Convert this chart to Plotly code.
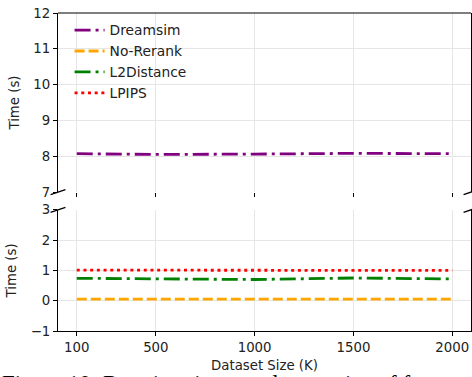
import plotly.graph_objects as go

dataset_size = [100, 500, 1000, 1500, 2000]
dreamsim = [8.07, 8.05, 8.06, 8.08, 8.07]
no_rerank = [0.05, 0.05, 0.05, 0.05, 0.05]
l2distance = [0.74, 0.72, 0.70, 0.75, 0.72]
lpips = [1.01, 1.01, 0.99, 1.00, 1.00]

x_ticks = [100, 500, 1000, 1500, 2000]
top_y_ticks = [7, 8, 9, 10, 11, 12]
bottom_y_ticks = [-1, 0, 1, 2, 3]

FONT = "DejaVu Sans"
LW = 2.8

fig = go.Figure()

series = [
    ("Dreamsim", dreamsim, "purple", "16px,5px,3px,5px", "y2"),
    ("No-Rerank", no_rerank, "orange", "10px,4px", "y"),
    ("L2Distance", l2distance, "green", "16px,5px,3px,5px", "y"),
    ("LPIPS", lpips, "red", "3px,3.7px", "y"),
]
for name, vals, color, dash, yax in series:
    fig.add_trace(go.Scatter(
        x=dataset_size, y=vals, name=name, mode="lines",
        line=dict(color=color, width=LW, dash=dash),
        xaxis="x" if yax == "y" else "x2", yaxis=yax,
    ))

grid = "#e6e6e6"
common_x = dict(range=[5, 2095], tickvals=x_ticks, showgrid=True, gridcolor=grid,
                gridwidth=1, ticks="outside", ticklen=4, tickcolor="black",
                zeroline=False, automargin=False,
                tickfont=dict(family=FONT, size=13.3, color="#222"))
common_y = dict(showgrid=True, gridcolor=grid, gridwidth=1, ticks="outside",
                ticklen=4, tickcolor="black", zeroline=False, showline=True,
                linecolor="black", linewidth=1.2, mirror=True, automargin=False,
                tickfont=dict(family=FONT, size=13.3, color="#222"),
                title=dict(text="Time (s)", font=dict(family=FONT, size=13.3, color="#222"), standoff=10))

bot_dom = [0, 0.381]
top_dom = [0.437, 1]

fig.update_layout(
    width=472, height=377,
    margin=dict(l=58, r=1, t=13, b=46, autoexpand=False),
    paper_bgcolor="white", plot_bgcolor="white",
    showlegend=True,
    legend=dict(x=0.028, y=0.995, xanchor="left", yanchor="top",
                bgcolor="rgba(0,0,0,0)", font=dict(family=FONT, size=13.8, color="#222"),
                tracegroupgap=0, itemwidth=30),
    xaxis=dict(common_x, domain=[0, 1], anchor="y", showline=True, linecolor="black",
               linewidth=1.2,
               title=dict(text="Dataset Size (K)", font=dict(family=FONT, size=13.3, color="#222"), standoff=6)),
    yaxis=dict(common_y, domain=bot_dom, anchor="x", range=[-1, 3], tickvals=bottom_y_ticks),
    xaxis2=dict(common_x, domain=[0, 1], anchor="y2", showline=False, showticklabels=False, matches="x"),
    yaxis2=dict(common_y, domain=top_dom, anchor="x2", range=[7, 12], tickvals=top_y_ticks),
)

shapes = []
# top spine of top panel
shapes.append(dict(type="line", xref="x2 domain", yref="y2 domain", x0=0, x1=1, y0=1, y1=1,
                   line=dict(color="black", width=1.2)))
# break marks
dx = 0.018
for xc in (0, 1):
    shapes.append(dict(type="line", xref="x2 domain", yref="y2 domain",
                       x0=xc - dx, x1=xc + dx, y0=-0.014, y1=0.014,
                       line=dict(color="black", width=1.3)))
    shapes.append(dict(type="line", xref="x domain", yref="y domain",
                       x0=xc - dx, x1=xc + dx, y0=1 - 0.021, y1=1 + 0.021,
                       line=dict(color="black", width=1.3)))
fig.update_layout(shapes=shapes)

fig.add_annotation(
    text="Figure 10: Running time vs. dataset size of f",
    xref="paper", yref="paper", x=-0.14, y=-0.12, xanchor="left", yanchor="top",
    showarrow=False, font=dict(family="Liberation Serif", size=23, color="black"),
)

fig.write_html("out.html", config={"displayModeBar": False},
               post_script="document.body.style.margin='0px';document.body.style.overflow='hidden';")
